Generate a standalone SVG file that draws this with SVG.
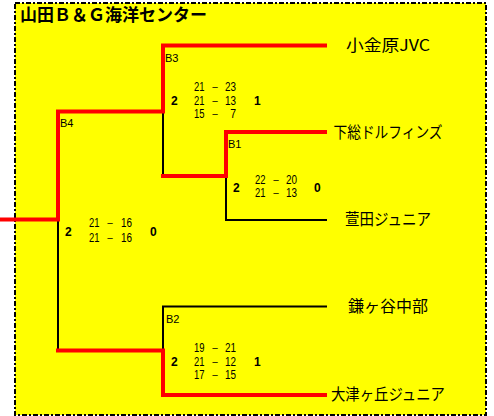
<svg xmlns="http://www.w3.org/2000/svg" width="494" height="416" viewBox="0 0 494 416">
<style>
.bg{fill:#FFFF00;stroke:#000;stroke-width:2;stroke-dasharray:5 2 2 2}
.win{fill:none;stroke:#FF0000;stroke-width:4;stroke-linejoin:miter;stroke-linecap:square}
.lose{fill:none;stroke:#000;stroke-width:2}
.title{font-family:"Noto Sans CJK JP","Noto Sans CJK SC",sans-serif;font-weight:bold;font-size:17px;fill:#000}
.team{font-family:"Noto Sans CJK JP","Noto Sans CJK SC",sans-serif;font-size:16px;fill:#000;text-anchor:middle}
.lbl{font-family:"Liberation Sans",Arial,sans-serif;font-size:11px;fill:#000}
.sc{font-family:"Liberation Sans",Arial,sans-serif;font-size:12.5px;fill:#000}
.scr{font-family:"Liberation Sans",Arial,sans-serif;font-size:12.5px;fill:#000;text-anchor:end}
.dash{font-family:"Liberation Sans",Arial,sans-serif;font-size:12px;fill:#000;text-anchor:middle}
.res{font-family:"Liberation Sans",Arial,sans-serif;font-size:12px;font-weight:bold;fill:#000}
</style>
<rect class="bg" x="15" y="3" width="471" height="412"/>
<text class="title" x="20" y="21">山田Ｂ＆Ｇ海洋センター</text>
<g id="connectors">
  <path class="lose" d="M163,111.5 V176"/>
  <path class="lose" d="M226,176 V220 H327"/>
  <path class="lose" d="M58,219.5 V350.5"/>
  <path class="lose" d="M327,306.5 H163 V350.5"/>
  <path class="win" d="M325,45.5 H163 V111.5 H58 V219.5 H0"/>
  <path class="win" d="M325,132 H226 V176 H163"/>
  <path class="win" d="M325,395 H163 V350.5 H58"/>
</g>
<g id="team-kogane"><text class="team" x="388" y="51" textLength="84" lengthAdjust="spacingAndGlyphs">小金原JVC</text></g>
<g id="team-shimousa"><text class="team" x="388" y="138" textLength="109" lengthAdjust="spacingAndGlyphs">下総ドルフィンズ</text></g>
<g id="team-kayata"><text class="team" x="388" y="225" textLength="86" lengthAdjust="spacingAndGlyphs">萱田ジュニア</text></g>
<g id="team-kamagaya"><text class="team" x="388" y="312" textLength="80" lengthAdjust="spacingAndGlyphs">鎌ヶ谷中部</text></g>
<g id="team-otsugaoka"><text class="team" x="388" y="400" textLength="114" lengthAdjust="spacingAndGlyphs">大津ヶ丘ジュニア</text></g>
<g id="match-B3">
  <text class="lbl" x="165" y="62">B3</text>
  <text class="res" x="171" y="105">2</text>
  <text class="sc" x="194" y="91" textLength="10.5" lengthAdjust="spacingAndGlyphs">21</text>
  <text class="dash" x="215" y="91">－</text>
  <text class="scr" x="236" y="91" textLength="11" lengthAdjust="spacingAndGlyphs">23</text>
  <text class="sc" x="194" y="104.5" textLength="10.5" lengthAdjust="spacingAndGlyphs">21</text>
  <text class="dash" x="215" y="104.5">－</text>
  <text class="scr" x="236" y="104.5" textLength="11" lengthAdjust="spacingAndGlyphs">13</text>
  <text class="sc" x="194" y="118" textLength="10.5" lengthAdjust="spacingAndGlyphs">15</text>
  <text class="dash" x="215" y="118">－</text>
  <text class="scr" x="236" y="118" textLength="5.8" lengthAdjust="spacingAndGlyphs">7</text>
  <text class="res" x="254" y="105">1</text>
</g>
<g id="match-B1">
  <text class="lbl" x="228" y="148">B1</text>
  <text class="res" x="233" y="192">2</text>
  <text class="sc" x="255" y="184" textLength="10.5" lengthAdjust="spacingAndGlyphs">22</text>
  <text class="dash" x="276" y="184">－</text>
  <text class="scr" x="297" y="184" textLength="11" lengthAdjust="spacingAndGlyphs">20</text>
  <text class="sc" x="255" y="197" textLength="10.5" lengthAdjust="spacingAndGlyphs">21</text>
  <text class="dash" x="276" y="197">－</text>
  <text class="scr" x="297" y="197" textLength="11" lengthAdjust="spacingAndGlyphs">13</text>
  <text class="res" x="314" y="192">0</text>
</g>
<g id="match-B4">
  <text class="lbl" x="60" y="127">B4</text>
  <text class="res" x="65" y="236">2</text>
  <text class="sc" x="89" y="227" textLength="10.5" lengthAdjust="spacingAndGlyphs">21</text>
  <text class="dash" x="110" y="227">－</text>
  <text class="scr" x="132" y="227" textLength="11" lengthAdjust="spacingAndGlyphs">16</text>
  <text class="sc" x="89" y="242" textLength="10.5" lengthAdjust="spacingAndGlyphs">21</text>
  <text class="dash" x="110" y="242">－</text>
  <text class="scr" x="132" y="242" textLength="11" lengthAdjust="spacingAndGlyphs">16</text>
  <text class="res" x="150" y="236">0</text>
</g>
<g id="match-B2">
  <text class="lbl" x="166" y="323">B2</text>
  <text class="res" x="171" y="366">2</text>
  <text class="sc" x="194" y="352" textLength="10.5" lengthAdjust="spacingAndGlyphs">19</text>
  <text class="dash" x="215" y="352">－</text>
  <text class="scr" x="236" y="352" textLength="11" lengthAdjust="spacingAndGlyphs">21</text>
  <text class="sc" x="194" y="366" textLength="10.5" lengthAdjust="spacingAndGlyphs">21</text>
  <text class="dash" x="215" y="366">－</text>
  <text class="scr" x="236" y="366" textLength="11" lengthAdjust="spacingAndGlyphs">12</text>
  <text class="sc" x="194" y="379" textLength="10.5" lengthAdjust="spacingAndGlyphs">17</text>
  <text class="dash" x="215" y="379">－</text>
  <text class="scr" x="236" y="379" textLength="11" lengthAdjust="spacingAndGlyphs">15</text>
  <text class="res" x="254" y="366">1</text>
</g>
</svg>
